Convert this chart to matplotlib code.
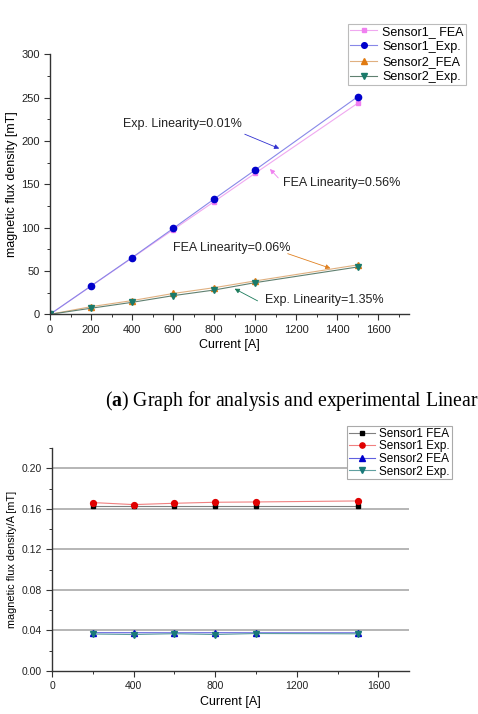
import numpy as np
import matplotlib.pyplot as plt
from matplotlib.ticker import MultipleLocator

plt.rcParams['font.family'] = ['Liberation Sans', 'DejaVu Sans']
plt.rcParams['mathtext.fontset'] = 'custom'
plt.rcParams['mathtext.rm'] = 'Liberation Serif'
plt.rcParams['mathtext.bf'] = 'Liberation Serif:bold'

# ---- data (top: flux density vs current) ----
current = [0, 200, 400, 600, 800, 1000, 1500]
s1_fea = [0, 32.5, 65, 97.5, 130, 162.7, 243.5]
s1_exp = [0, 32.7, 65.4, 99, 133, 166.5, 251]
s2_fea = [0, 8.8, 15.8, 24, 30.7, 38.5, 57]
s2_exp = [0, 7, 13.8, 21.5, 28, 36.5, 54.6]

# ---- data (bottom: flux density per ampere) ----
current_b = [200, 400, 600, 800, 1000, 1500]
s1_fea_b = [0.1626, 0.1626, 0.1626, 0.1626, 0.1626, 0.1626]
s1_exp_b = [0.1662, 0.1642, 0.1655, 0.1665, 0.1668, 0.1678]
s2_fea_b = [0.0378, 0.0378, 0.0377, 0.0378, 0.0377, 0.0377]
s2_exp_b = [0.0365, 0.0360, 0.0368, 0.0360, 0.0370, 0.0367]

annots = [
    ("Exp. Linearity=0.01%", (356, 220), (937, 209), (1130, 190), '#3030d0'),
    ("FEA Linearity=0.56%", (1137, 151), (1122, 155), (1063, 170), '#f080f0'),
    ("FEA Linearity=0.06%", (600, 77), (1146, 71), (1380, 52), '#e08020'),
    ("Exp. Linearity=1.35%", (1049, 17), (1024, 14), (888, 31), '#1a7a5a'),
]

fig = plt.figure(figsize=(4.78, 7.14), dpi=100)

def style_axes(ax, lsize):
    for s in ['top', 'right']:
        ax.spines[s].set_visible(False)
    for s in ['left', 'bottom']:
        ax.spines[s].set_linewidth(1.0)
        ax.spines[s].set_color('#333333')
    ax.tick_params(which='major', direction='out', length=4, width=0.8,
                   labelsize=lsize, colors='#333333', labelcolor='#222222')
    ax.tick_params(which='minor', direction='out', length=2.5, width=0.7,
                   colors='#333333')

# ---- top chart ----
ax1 = fig.add_axes([0.1046, 0.5598, 0.751, 0.3642])
ax1.plot(current, s1_fea, color='#f0a8f0', lw=0.8, marker='s', ms=3.5,
         mfc='#f080f0', mec='#f080f0', label='Sensor1_ FEA')
ax1.plot(current, s1_exp, color='#8888e8', lw=0.8, marker='o', ms=4.5,
         mfc='#0000cc', mec='#0000cc', label='Sensor1_Exp.')
ax1.plot(current, s2_fea, color='#e0b080', lw=0.8, marker='^', ms=4.5,
         mfc='#e07a10', mec='#e07a10', label='Sensor2_FEA')
ax1.plot(current, s2_exp, color='#608070', lw=0.8, marker='v', ms=4.5,
         mfc='#1a7a6a', mec='#1a7a6a', label='Sensor2_Exp.')
ax1.set_xlim(0, 1750)
ax1.set_ylim(0, 300)
ax1.xaxis.set_major_locator(MultipleLocator(200))
ax1.xaxis.set_minor_locator(MultipleLocator(100))
ax1.yaxis.set_major_locator(MultipleLocator(50))
ax1.yaxis.set_minor_locator(MultipleLocator(25))
style_axes(ax1, 8)
ax1.set_xlabel('Current [A]', fontsize=9, labelpad=3)
ax1.set_ylabel('magnetic flux density [mT]', fontsize=9, labelpad=2)
for txt, tpos, tail, head, col in annots:
    ax1.text(tpos[0], tpos[1], txt, fontsize=9, va='center', ha='left', color='#222222')
    ax1.annotate('', xy=head, xytext=tail,
                 arrowprops=dict(arrowstyle='-|>', color=col, lw=0.6,
                                 mutation_scale=7))
leg1 = ax1.legend(loc='upper left', bbox_to_anchor=(0.83, 1.117), fontsize=9,
                  frameon=True, fancybox=False, edgecolor='#aaaaaa',
                  handlelength=2.2, handletextpad=0.4, labelspacing=0.25,
                  borderpad=0.15, borderaxespad=0, markerscale=0.9)
leg1.get_frame().set_linewidth(0.8)

# ---- caption ----
fig.text(0.22, 1 - 401 / 714, r'($\mathbf{a}$) Graph for analysis and experimental Linear',
         fontsize=14.2, family='Liberation Serif', va='center', ha='left')

# ---- bottom chart ----
ax2 = fig.add_axes([0.1088, 0.0602, 0.7468, 0.3123])
for y in [0.04, 0.08, 0.12, 0.16, 0.20]:
    ax2.axhline(y, color='#b0b0b0', lw=1.3, zorder=0)
ax2.plot(current_b, s1_fea_b, color='#808080', lw=0.8, marker='s', ms=3.5,
         mfc='black', mec='black', label='Sensor1 FEA')
ax2.plot(current_b, s1_exp_b, color='#f08080', lw=0.8, marker='o', ms=4.2,
         mfc='#e00000', mec='#e00000', label='Sensor1 Exp.')
ax2.plot(current_b, s2_fea_b, color='#6060e0', lw=0.8, marker='^', ms=4.2,
         mfc='#0000cc', mec='#0000cc', label='Sensor2 FEA')
ax2.plot(current_b, s2_exp_b, color='#60a0a0', lw=0.8, marker='v', ms=4.2,
         mfc='#1a7a7a', mec='#1a7a7a', label='Sensor2 Exp.')
ax2.set_xlim(0, 1750)
ax2.set_ylim(0, 0.22)
ax2.xaxis.set_major_locator(MultipleLocator(400))
ax2.xaxis.set_minor_locator(MultipleLocator(200))
ax2.yaxis.set_major_locator(MultipleLocator(0.04))
ax2.yaxis.set_minor_locator(MultipleLocator(0.02))
ax2.yaxis.set_major_formatter(lambda v, p: f'{v:.2f}')
style_axes(ax2, 7.5)
ax2.set_xlabel('Current [A]', fontsize=9, labelpad=3)
ax2.set_ylabel('magnetic flux density/A [mT]', fontsize=7.8, labelpad=3)
leg2 = ax2.legend(loc='upper left', bbox_to_anchor=(0.826, 1.099), fontsize=8.5,
                  frameon=True, fancybox=False, edgecolor='#aaaaaa',
                  handlelength=2.2, handletextpad=0.4, labelspacing=0.05,
                  borderpad=0.15, borderaxespad=0, framealpha=1, markerscale=0.9)
leg2.get_frame().set_linewidth(0.8)

fig.savefig('out.png', dpi=100, facecolor='white')
